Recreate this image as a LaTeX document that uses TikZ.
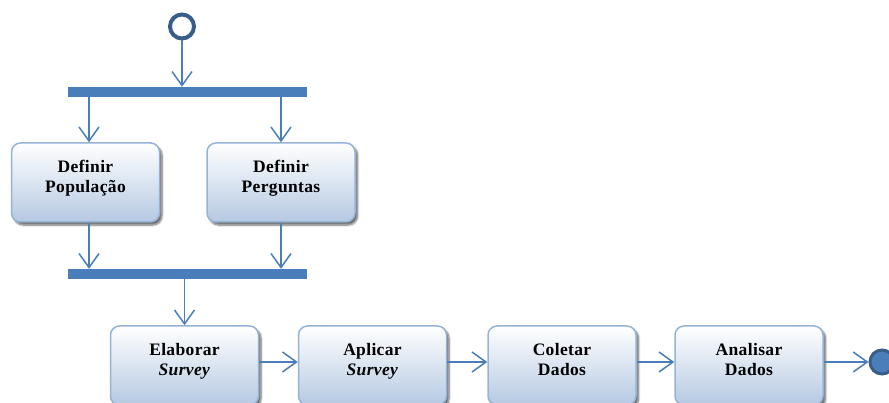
\documentclass[tikz,border=0pt]{standalone}
\usepackage{fontspec}
\setmainfont{Liberation Serif}
\usetikzlibrary{arrows.meta,shadows.blur}
\definecolor{linecol}{HTML}{4A7EBB}
\definecolor{darkcol}{HTML}{385D8A}
\definecolor{boxborder}{HTML}{95B3D7}
\definecolor{boxbottom}{HTML}{B5C9E2}
\tikzset{
  actbox/.style={draw=boxborder, line width=1.5pt, rounded corners=9pt,
    top color=white, bottom color=boxbottom,
    blur shadow={shadow xshift=2.5pt, shadow yshift=-3pt, shadow blur steps=6, shadow blur radius=2pt, shadow opacity=60},
    minimum width=148pt, minimum height=79pt, align=center, text depth=12.5pt,
    font=\fontsize{17.5}{20}\selectfont\bfseries\addfontfeature{LetterSpace=2}, inner sep=0pt},
  bar/.style={fill=linecol, draw=none, minimum width=239pt, minimum height=10pt, inner sep=0pt},
  arr/.style={draw=linecol, line width=1.5pt, -{Straight Barb[length=14pt,width=20pt,line width=1.5pt]}},
}
\begin{document}
\begin{tikzpicture}[x=1pt,y=-1pt]
\useasboundingbox (0,0) rectangle (889,403);
\clip (0,0) rectangle (889,403);
\node[circle, draw=darkcol, line width=4pt, fill=white, minimum size=24pt, inner sep=0pt] (start) at (182,26.5) {};
\node[bar] (bar1) at (187.5,92) {};
\node[actbox] (pop) at (85.5,182.5) {Definir\\População};
\node[actbox] (perg) at (281,182.5) {Definir\\Perguntas};
\node[bar] (bar2) at (187.5,274) {};
\node[actbox] (elab) at (184.5,365.5) {Elaborar\\\textit{Survey}};
\node[actbox] (apl) at (372.5,365.5) {Aplicar\\\textit{Survey}};
\node[actbox] (col) at (562,365.5) {Coletar\\Dados};
\node[actbox] (ana) at (749,365.5) {Analisar\\Dados};
\node[circle, draw=darkcol, line width=3pt, fill=linecol, minimum size=24pt, inner sep=0pt] (end) at (882,362) {};
\coordinate (p1) at ([xshift=3.5pt]pop.north);
\coordinate (p2) at ([xshift=3.5pt]pop.south);
\draw[arr] (start.south) -- (start.south |- bar1.north);
\draw[arr] (bar1.south -| p1) -- (p1);
\draw[arr] (bar1.south -| perg.north) -- (perg.north);
\draw[arr] (p2) -- (bar2.north -| p2);
\draw[arr] (perg.south) -- (bar2.north -| perg.south);
\draw[arr] (bar2.south -| elab.north) -- (elab.north);
\draw[arr] ([yshift=3.5pt]elab.east) -- ([yshift=3.5pt]apl.west);
\draw[arr] ([yshift=3.5pt]apl.east) -- ([yshift=3.5pt]col.west);
\draw[arr] ([yshift=3.5pt]col.east) -- ([yshift=3.5pt]ana.west);
\draw[arr] ([yshift=3.5pt]ana.east) -- (end.west);
\end{tikzpicture}
\end{document}
